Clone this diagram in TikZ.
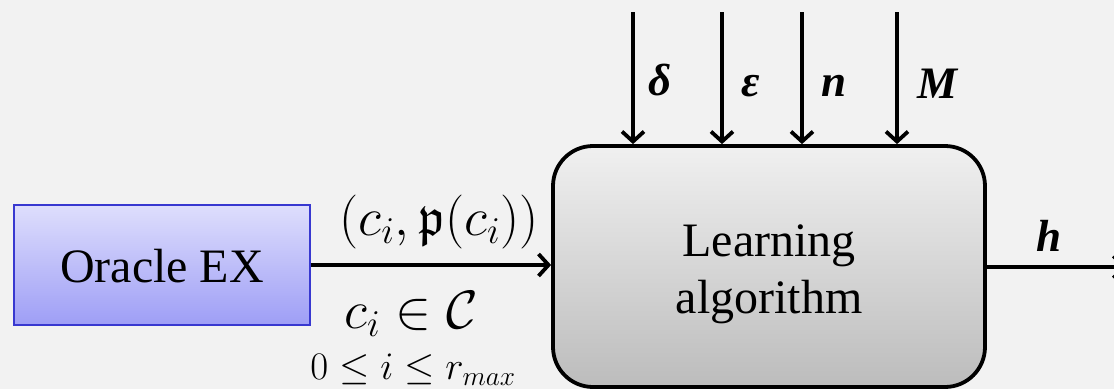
\RequirePackage{fix-cm}
\documentclass[tikz,border=0pt]{standalone}
\usepackage{amssymb}
\usepackage{fontspec}
\setmainfont{Liberation Serif}
\usetikzlibrary{arrows.meta}
\definecolor{bg}{HTML}{F2F2F2}
\definecolor{oraclebd}{HTML}{3838D0}
\definecolor{oracletop}{HTML}{DEDEFC}
\definecolor{oraclebot}{HTML}{9E9EF6}
\definecolor{learntop}{HTML}{F0F0F0}
\definecolor{learnbot}{HTML}{BCBCBC}
\begin{document}
\begin{tikzpicture}[x=1pt,y=-1pt,
  thickline/.style={line width=3.8pt},
  arr/.style={thickline,-{Straight Barb[length=10pt,width=22pt,line width=3.8pt]}},
  bigtext/.style={font=\fontsize{48}{57}\selectfont},
  mathlbl/.style={font=\fontsize{54}{60}\selectfont},
  smalllbl/.style={font=\fontsize{39}{44}\selectfont},
  parlbl/.style={font=\fontsize{45}{50}\selectfont\bfseries\itshape},
  oraclebox/.style={draw=oraclebd,line width=1.6pt,top color=oracletop,bottom color=oraclebot,
    minimum width=296pt,minimum height=120pt,inner sep=0pt},
  learnbox/.style={draw=black,line width=3.8pt,top color=learntop,bottom color=learnbot,
    rounded corners=40pt,minimum width=432pt,minimum height=241pt,inner sep=0pt}]
\useasboundingbox (0,0) rectangle (1114,389);
\fill[bg] (0,0) rectangle (1114,389);

\node[oraclebox] (oracle) at (162,265) {};
\node[bigtext] (oracletxt) at (162,266) {Oracle EX};

\node[learnbox] (learn) at (769,266.5) {};
\node[bigtext,align=center] (learntxt) at (769,274) {Learning\\algorithm};

% input arrow
\draw[arr] (oracle.east) -- (oracle.east -| learn.west);
\node[mathlbl] (pairlbl) at (439,222) {$(c_i,\mathfrak{p}(c_i))$};
\node[mathlbl] (inlbl) at (411,314) {$c_i\in\mathcal{C}$};
\node[smalllbl] (rangelbl) at (413,370) {$0\le i\le r_{max}$};

% parameter arrows
\coordinate (pd) at (633,12);
\coordinate (pe) at (722,12);
\coordinate (pn) at (802,12);
\coordinate (pm) at (897,12);
\draw[arr] (pd) -- (pd |- learn.north);
\draw[arr] (pe) -- (pe |- learn.north);
\draw[arr] (pn) -- (pn |- learn.north);
\draw[arr] (pm) -- (pm |- learn.north);
\node[parlbl] (ld) at (660,80) {δ};
\node[parlbl] (le) at (751,86) {ε};
\node[parlbl] (ln) at (834,86) {n};
\node[parlbl] (lm) at (937,84) {M};

% output arrow
\coordinate (out) at (1126,267);
\draw[arr] (learn.east |- out) -- (out);
\node[parlbl] (lh) at (1049,236) {h};
\end{tikzpicture}
\end{document}
